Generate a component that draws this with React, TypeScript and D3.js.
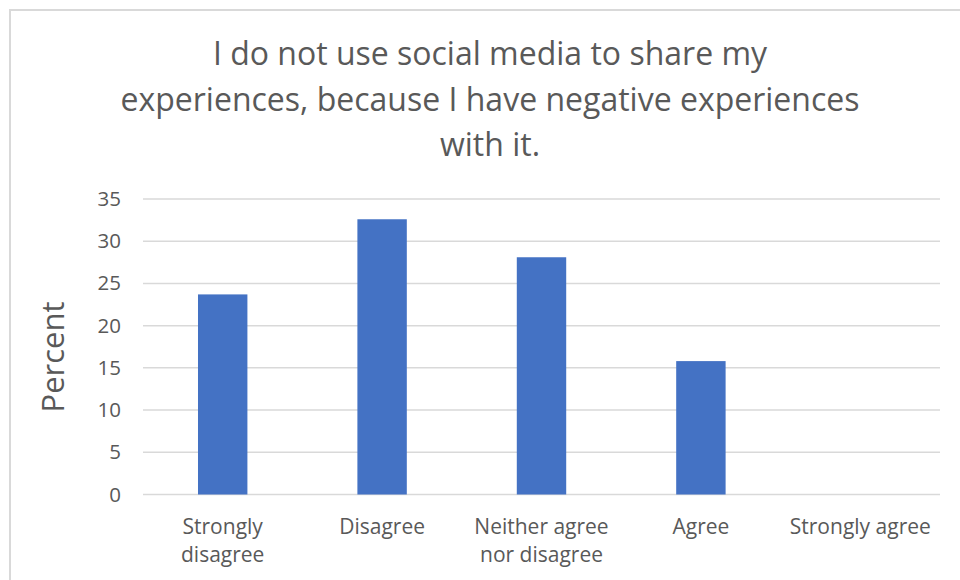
import React from "react";
import * as d3 from "d3";

const categories: string[][] = [
  ["Strongly", "disagree"],
  ["Disagree"],
  ["Neither agree", "nor disagree"],
  ["Agree"],
  ["Strongly agree"],
];
const values: number[] = [23.7, 32.6, 28.1, 15.8, 0];
const yTicks: number[] = [0, 5, 10, 15, 20, 25, 30, 35];
const titleLines: string[] = [
  "I do not use social media to share my",
  "experiences, because I have negative experiences",
  "with it.",
];
const yAxisLabel = "Percent";

const W = 960;
const H = 580;
const FONT = "'Open Sans', sans-serif";
const TEXT = "#595959";
const GRID = "#d9d9d9";
const BAR = "#4472C4";

export default function App() {
  const x = d3
    .scaleBand<number>()
    .domain(d3.range(categories.length))
    .range([143, 940])
    .paddingInner(0.69)
    .paddingOuter(0.345);
  const y = d3.scaleLinear().domain([0, 35]).range([494.5, 199]);

  return (
    <svg
      width={W}
      height={H}
      style={{ position: "absolute", left: 0, top: 0, background: "#fff" }}
      fontFamily={FONT}
    >
      <rect x={10} y={10} width={1000} height={700} fill="#fff" stroke={GRID} strokeWidth={2} />
      {titleLines.map((t, i) => (
        <text
          key={i}
          x={490}
          y={65 + i * 45.5}
          textAnchor="middle"
          fontSize={32}
          fill={TEXT}
        >
          {t}
        </text>
      ))}
      {yTicks.map((t) => (
        <g key={t}>
          <line x1={143} x2={940} y1={y(t)} y2={y(t)} stroke={GRID} strokeWidth={1.5} />
          <text x={121} y={y(t) + 7} textAnchor="end" fontSize={20.5} fill={TEXT}>
            {t}
          </text>
        </g>
      ))}
      {values.map((v, i) => (
        <rect
          key={i}
          x={x(i)}
          width={x.bandwidth()}
          y={y(v)}
          height={y(0) - y(v)}
          fill={BAR}
        />
      ))}
      {categories.map((lines, i) => (
        <text
          key={i}
          x={(x(i) as number) + x.bandwidth() / 2}
          y={534}
          textAnchor="middle"
          fontSize={21}
          fill={TEXT}
        >
          {lines.map((l, j) => (
            <tspan key={j} x={(x(i) as number) + x.bandwidth() / 2} dy={j === 0 ? 0 : 28}>
              {l}
            </tspan>
          ))}
        </text>
      ))}
      <text
        transform={`translate(64,357) rotate(-90)`}
        textAnchor="middle"
        fontSize={31}
        fill={TEXT}
      >
        {yAxisLabel}
      </text>
    </svg>
  );
}
